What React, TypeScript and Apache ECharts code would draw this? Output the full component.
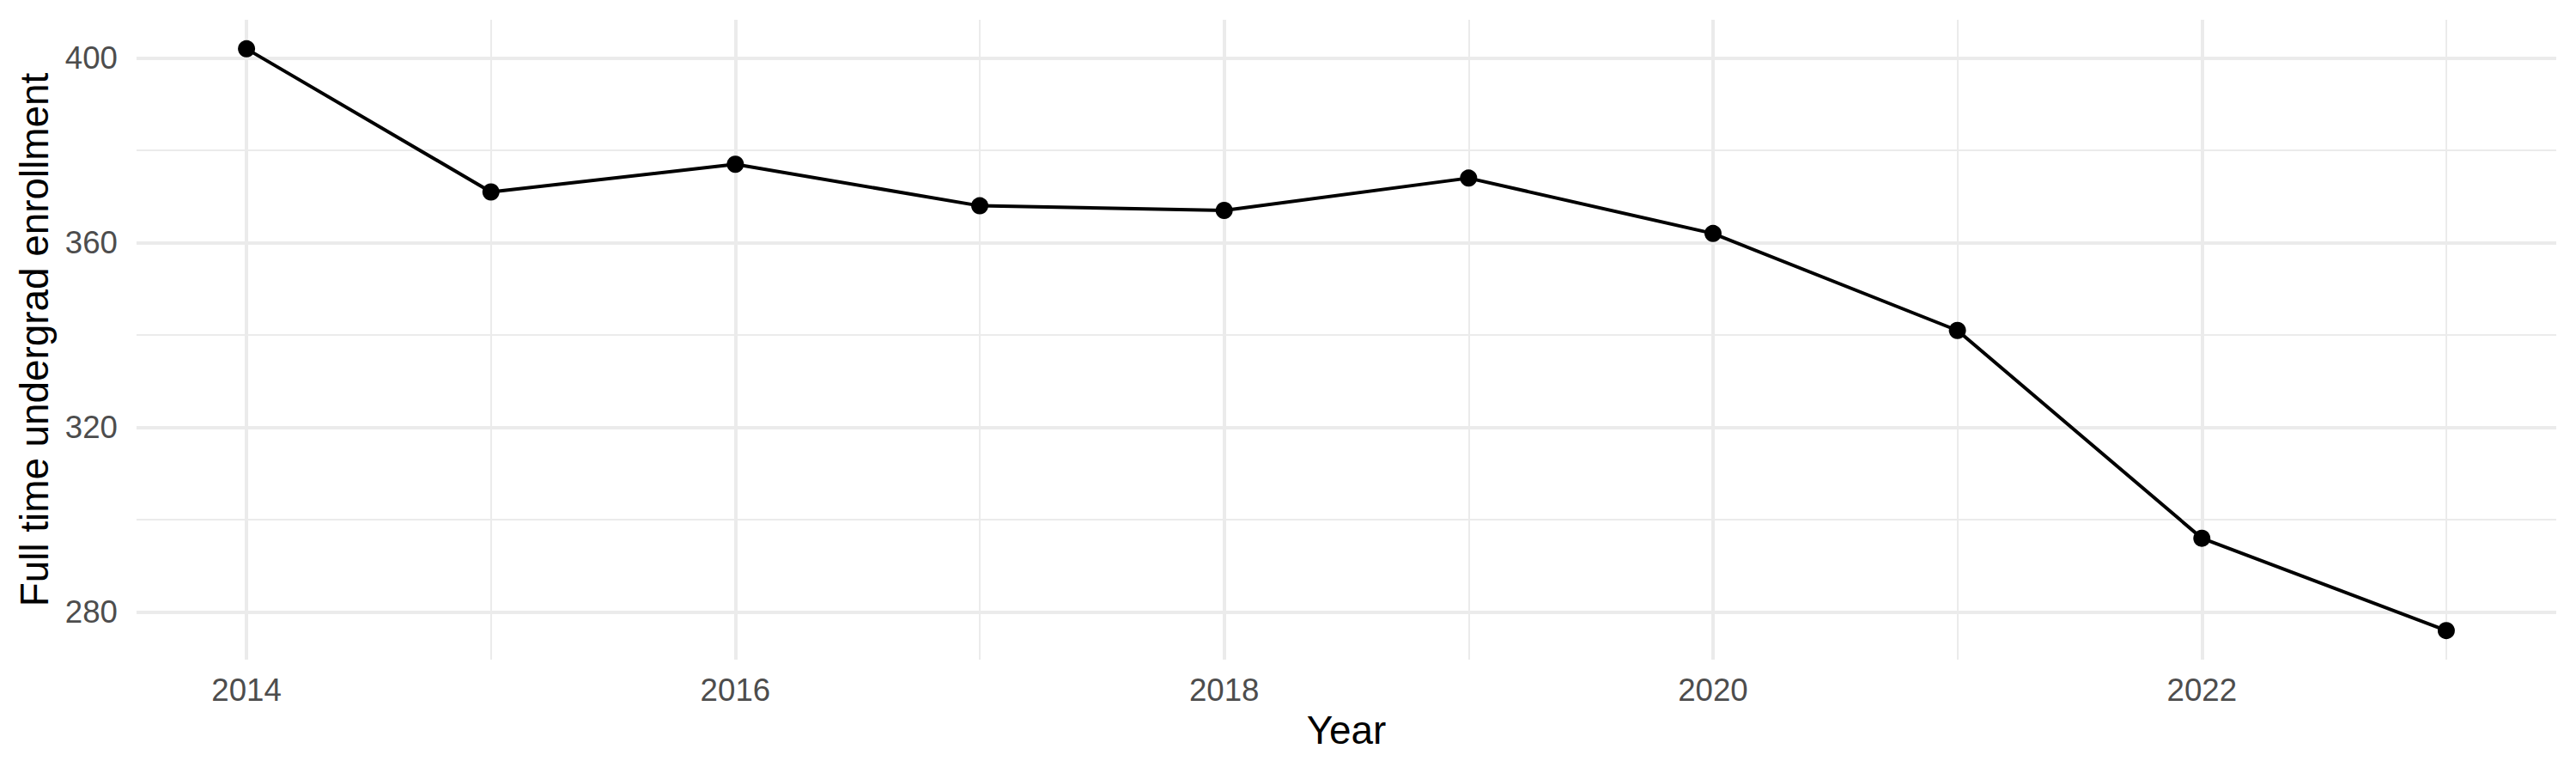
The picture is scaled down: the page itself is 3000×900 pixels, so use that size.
import React, { useEffect, useRef } from "react";
import * as echarts from "echarts";

const years = [2014, 2015, 2016, 2017, 2018, 2019, 2020, 2021, 2022, 2023];
const enrollment = [402, 371, 377, 368, 367, 374, 362, 341, 296, 276];
const xMajorTicks = [2014, 2016, 2018, 2020, 2022];
const xMinorTicks = [2015, 2017, 2019, 2021, 2023];
const yMajorTicks = [280, 320, 360, 400];
const yMinorTicks = [300, 340, 380];

const FONT = "Liberation Sans, Arial, Helvetica, sans-serif";

export default function App() {
  const ref = useRef<HTMLDivElement>(null);
  useEffect(() => {
    if (!ref.current) return;
    const chart = echarts.init(ref.current, null, { renderer: "svg" });
    const xMin = Math.min(...years);
    const xMax = Math.max(...years);
    const xPad = (xMax - xMin) * 0.05;
    const yMin = Math.min(...enrollment);
    const yMax = Math.max(...enrollment);
    const yPad = (yMax - yMin) * 0.05;
    const grid = "#EBEBEB";
    const baseAxis = {
      type: "value" as const,
      axisLine: { show: false },
    };
    chart.setOption({
      animation: false,
      backgroundColor: "#FFFFFF",
      grid: {
        left: 159,
        right: 23,
        top: 23,
        bottom: 132,
        containLabel: false,
        outerBoundsMode: "none",
      },
      xAxis: [
        {
          ...baseAxis,
          min: xMin - xPad,
          max: xMax + xPad,
          axisTick: { show: false, customValues: xMinorTicks },
          axisLabel: { show: false },
          splitLine: { show: true, lineStyle: { color: grid, width: 2 } },
        },
        {
          ...baseAxis,
          position: "bottom",
          min: xMin - xPad,
          max: xMax + xPad,
          axisTick: { show: false, customValues: xMajorTicks },
          axisLabel: {
            customValues: xMajorTicks,
            color: "#4D4D4D",
            fontSize: 36.67,
            fontFamily: FONT,
            margin: 17,
            formatter: (v: number) => String(v),
          },
          splitLine: { show: true, lineStyle: { color: grid, width: 4 } },
          name: "Year",
          nameLocation: "middle",
          nameGap: 59,
          nameTextStyle: { color: "#000000", fontSize: 45.83, fontFamily: FONT },
        },
      ],
      yAxis: [
        {
          ...baseAxis,
          min: yMin - yPad,
          max: yMax + yPad,
          axisTick: { show: false, customValues: yMinorTicks },
          axisLabel: { show: false },
          splitLine: { show: true, lineStyle: { color: grid, width: 2 } },
        },
        {
          ...baseAxis,
          position: "left",
          min: yMin - yPad,
          max: yMax + yPad,
          axisTick: { show: false, customValues: yMajorTicks },
          axisLabel: {
            customValues: yMajorTicks,
            color: "#4D4D4D",
            fontSize: 36.67,
            fontFamily: FONT,
            margin: 22,
          },
          splitLine: { show: true, lineStyle: { color: grid, width: 4 } },
          name: "Full time undergrad enrollment",
          nameLocation: "middle",
          nameGap: 96,
          nameTextStyle: { color: "#000000", fontSize: 45.83, fontFamily: FONT },
        },
      ],
      series: [
        {
          type: "line",
          xAxisIndex: 1,
          yAxisIndex: 1,
          data: years.map((y, i) => [y, enrollment[i]]),
          symbol: "circle",
          symbolSize: 20,
          showSymbol: true,
          itemStyle: { color: "#000000" },
          lineStyle: { color: "#000000", width: 4 },
          z: 10,
        },
      ],
    });
    return () => chart.dispose();
  }, []);
  return (
    <div
      ref={ref}
      style={{ position: "absolute", left: 0, top: 0, width: 3000, height: 900 }}
    />
  );
}
